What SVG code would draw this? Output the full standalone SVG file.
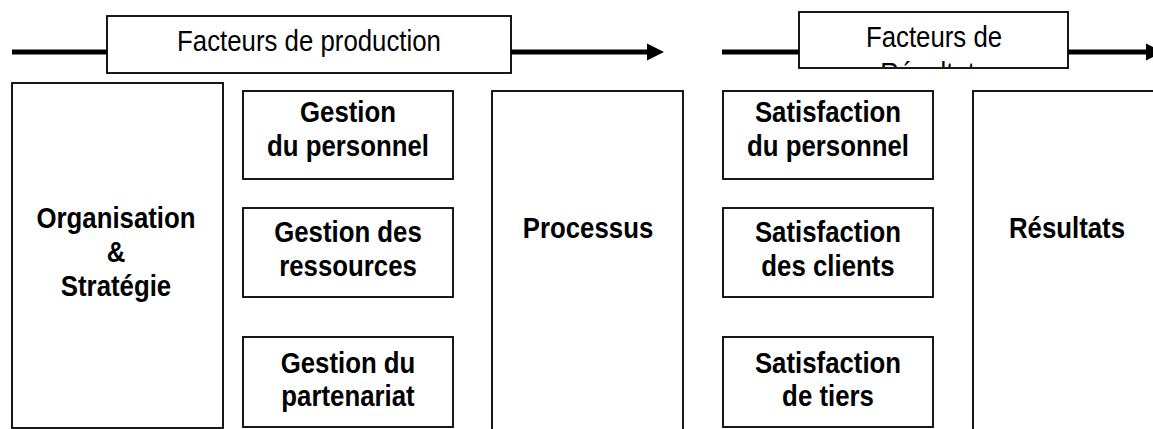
<svg xmlns="http://www.w3.org/2000/svg" width="1153" height="429" viewBox="0 0 1153 429">
<style>
.box{fill:#fff;stroke:#000;stroke-width:1.8}
.conn{stroke:#000;stroke-width:5;fill:none}
text{font-family:"Liberation Sans",Arial,sans-serif;font-size:30px;fill:#000;text-anchor:middle}
.b{font-weight:bold}
</style>
<defs>
<marker id="ah" markerUnits="userSpaceOnUse" markerWidth="18" markerHeight="18" refX="1" refY="9" orient="auto" viewBox="0 0 18 18">
<path d="M0,0.5 L17,9 L0,17.5 Z" fill="#000"/>
</marker>
<clipPath id="clip2"><rect x="800" y="13" width="267" height="54"/></clipPath>
</defs>
<g id="connectors">
<line class="conn" x1="12" y1="52" x2="648" y2="52" marker-end="url(#ah)"/>
<line class="conn" x1="722" y1="52" x2="1147" y2="52" marker-end="url(#ah)"/>
</g>
<g id="facteurs-production">
<rect class="box" x="107" y="16" width="404" height="57"/>
<text transform="translate(309,51) scale(0.86,1)">Facteurs de production</text>
</g>
<g id="facteurs-resultats">
<rect class="box" x="799" y="12" width="269" height="56"/>
<g clip-path="url(#clip2)">
<text transform="translate(934,47) scale(0.86,1)">Facteurs de</text>
<text transform="translate(934,83) scale(0.86,1)">Résultats</text>
</g>
</g>
<g id="organisation">
<rect class="box" x="12" y="83" width="211" height="345"/>
<text class="b" transform="translate(116,228) scale(0.86,1)">Organisation</text>
<text class="b" transform="translate(116,262) scale(0.86,1)">&amp;</text>
<text class="b" transform="translate(116,296) scale(0.86,1)">Stratégie</text>
</g>
<g id="gestion-personnel">
<rect class="box" x="243" y="91" width="210" height="88"/>
<text class="b" transform="translate(348,122) scale(0.86,1)">Gestion</text>
<text class="b" transform="translate(348,156) scale(0.86,1)">du personnel</text>
</g>
<g id="gestion-ressources">
<rect class="box" x="243" y="208" width="210" height="89"/>
<text class="b" transform="translate(348,242) scale(0.86,1)">Gestion des</text>
<text class="b" transform="translate(348,276) scale(0.86,1)">ressources</text>
</g>
<g id="gestion-partenariat">
<rect class="box" x="243" y="337" width="210" height="90"/>
<text class="b" transform="translate(348,373) scale(0.86,1)">Gestion du</text>
<text class="b" transform="translate(348,406) scale(0.86,1)">partenariat</text>
</g>
<g id="processus">
<rect class="box" x="492" y="91" width="191" height="360"/>
<text class="b" transform="translate(588,238) scale(0.86,1)">Processus</text>
</g>
<g id="satisfaction-personnel">
<rect class="box" x="723" y="91" width="210" height="88"/>
<text class="b" transform="translate(828,122) scale(0.86,1)">Satisfaction</text>
<text class="b" transform="translate(828,156) scale(0.86,1)">du personnel</text>
</g>
<g id="satisfaction-clients">
<rect class="box" x="723" y="208" width="210" height="89"/>
<text class="b" transform="translate(828,242) scale(0.86,1)">Satisfaction</text>
<text class="b" transform="translate(828,276) scale(0.86,1)">des clients</text>
</g>
<g id="satisfaction-tiers">
<rect class="box" x="723" y="337" width="210" height="90"/>
<text class="b" transform="translate(828,373) scale(0.86,1)">Satisfaction</text>
<text class="b" transform="translate(828,406) scale(0.86,1)">de tiers</text>
</g>
<g id="resultats">
<rect class="box" x="973" y="91" width="200" height="360"/>
<text class="b" transform="translate(1067,238) scale(0.86,1)">Résultats</text>
</g>
</svg>
